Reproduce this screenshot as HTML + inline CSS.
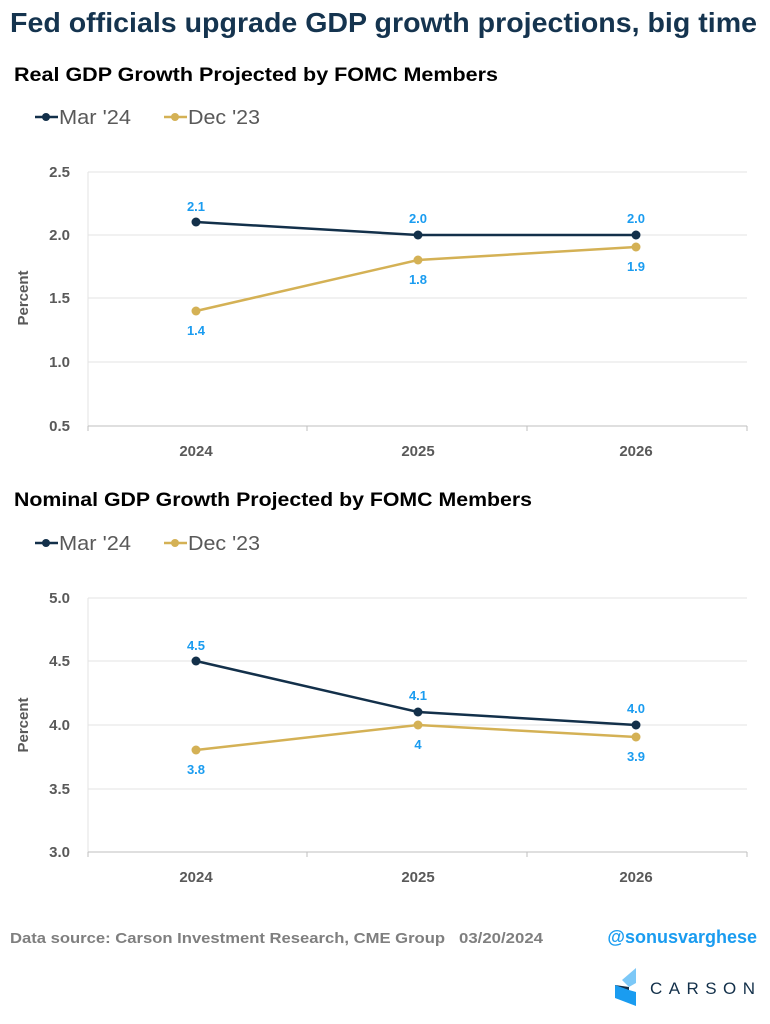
<!DOCTYPE html>
<html><head><meta charset="utf-8"><style>
body{margin:0;background:#fff}
svg{display:block;font-family:"Liberation Sans",Arial,sans-serif}
.t{font-size:15px;font-weight:bold;fill:#595959}
.lb{font-size:13px;font-weight:bold;fill:#1a9cf0}
</style></head><body>
<svg width="770" height="1024" viewBox="0 0 770 1024">
<text x="10" y="32" font-size="28" font-weight="bold" fill="#15344f" textLength="747" lengthAdjust="spacingAndGlyphs">Fed officials upgrade GDP growth projections, big time</text>
<text x="14" y="81" font-size="19" font-weight="bold" fill="#000" textLength="484" lengthAdjust="spacingAndGlyphs">Real GDP Growth Projected by FOMC Members</text>
<g font-size="20" fill="#595959">
<line x1="35" y1="117" x2="58" y2="117" stroke="#13304a" stroke-width="2.5"/><circle cx="46" cy="117" r="4" fill="#13304a"/>
<text x="59" y="124" textLength="72" lengthAdjust="spacingAndGlyphs">Mar '24</text>
<line x1="164" y1="117" x2="187" y2="117" stroke="#d4b155" stroke-width="2.5"/><circle cx="175" cy="117" r="4" fill="#d4b155"/>
<text x="188" y="124" textLength="72" lengthAdjust="spacingAndGlyphs">Dec '23</text>
</g>
<!-- chart1 -->
<g stroke="#e3e3e3" stroke-width="1">
<line x1="88" y1="172" x2="747" y2="172"/><line x1="88" y1="235" x2="747" y2="235"/><line x1="88" y1="298" x2="747" y2="298"/><line x1="88" y1="362" x2="747" y2="362"/>
<line x1="88" y1="172" x2="88" y2="426"/>
</g>
<g stroke="#bfbfbf"><line x1="88" y1="426" x2="747" y2="426"/><line x1="307" y1="426" x2="307" y2="431"/><line x1="527" y1="426" x2="527" y2="431"/><line x1="747" y1="426" x2="747" y2="431"/><line x1="88" y1="426" x2="88" y2="431"/></g>
<g class="t" text-anchor="end"><text x="70" y="177">2.5</text><text x="70" y="240">2.0</text><text x="70" y="303">1.5</text><text x="70" y="367">1.0</text><text x="70" y="431">0.5</text></g>
<g class="t" text-anchor="middle"><text x="196" y="456">2024</text><text x="418" y="456">2025</text><text x="636" y="456">2026</text></g>
<text class="t" transform="translate(28,298) rotate(-90)" text-anchor="middle">Percent</text>
<polyline points="196,311 418,260 636,247" fill="none" stroke="#d4b155" stroke-width="2.5"/>
<polyline points="196,222 418,235 636,235" fill="none" stroke="#13304a" stroke-width="2.5"/>
<g fill="#d4b155"><circle cx="196" cy="311" r="4.5"/><circle cx="418" cy="260" r="4.5"/><circle cx="636" cy="247" r="4.5"/></g>
<g fill="#13304a"><circle cx="196" cy="222" r="4.5"/><circle cx="418" cy="235" r="4.5"/><circle cx="636" cy="235" r="4.5"/></g>
<g class="lb" text-anchor="middle"><text x="196" y="211">2.1</text><text x="418" y="223">2.0</text><text x="636" y="223">2.0</text>
<text x="196" y="335">1.4</text><text x="418" y="284">1.8</text><text x="636" y="271">1.9</text></g>
<!-- chart2 -->
<text x="14" y="506" font-size="19" font-weight="bold" fill="#000" textLength="518" lengthAdjust="spacingAndGlyphs">Nominal GDP Growth Projected by FOMC Members</text>
<g font-size="20" fill="#595959">
<line x1="35" y1="543" x2="58" y2="543" stroke="#13304a" stroke-width="2.5"/><circle cx="46" cy="543" r="4" fill="#13304a"/>
<text x="59" y="550" textLength="72" lengthAdjust="spacingAndGlyphs">Mar '24</text>
<line x1="164" y1="543" x2="187" y2="543" stroke="#d4b155" stroke-width="2.5"/><circle cx="175" cy="543" r="4" fill="#d4b155"/>
<text x="188" y="550" textLength="72" lengthAdjust="spacingAndGlyphs">Dec '23</text>
</g>
<g stroke="#e3e3e3" stroke-width="1">
<line x1="88" y1="598" x2="747" y2="598"/><line x1="88" y1="661" x2="747" y2="661"/><line x1="88" y1="725" x2="747" y2="725"/><line x1="88" y1="789" x2="747" y2="789"/>
<line x1="88" y1="598" x2="88" y2="852"/>
</g>
<g stroke="#bfbfbf"><line x1="88" y1="852" x2="747" y2="852"/><line x1="307" y1="852" x2="307" y2="857"/><line x1="527" y1="852" x2="527" y2="857"/><line x1="747" y1="852" x2="747" y2="857"/><line x1="88" y1="852" x2="88" y2="857"/></g>
<g class="t" text-anchor="end"><text x="70" y="603">5.0</text><text x="70" y="666">4.5</text><text x="70" y="730">4.0</text><text x="70" y="794">3.5</text><text x="70" y="857">3.0</text></g>
<g class="t" text-anchor="middle"><text x="196" y="882">2024</text><text x="418" y="882">2025</text><text x="636" y="882">2026</text></g>
<text class="t" transform="translate(28,725) rotate(-90)" text-anchor="middle">Percent</text>
<polyline points="196,750 418,725 636,737" fill="none" stroke="#d4b155" stroke-width="2.5"/>
<polyline points="196,661 418,712 636,725" fill="none" stroke="#13304a" stroke-width="2.5"/>
<g fill="#d4b155"><circle cx="196" cy="750" r="4.5"/><circle cx="418" cy="725" r="4.5"/><circle cx="636" cy="737" r="4.5"/></g>
<g fill="#13304a"><circle cx="196" cy="661" r="4.5"/><circle cx="418" cy="712" r="4.5"/><circle cx="636" cy="725" r="4.5"/></g>
<g class="lb" text-anchor="middle"><text x="196" y="650">4.5</text><text x="418" y="700">4.1</text><text x="636" y="713">4.0</text>
<text x="196" y="774">3.8</text><text x="418" y="749">4</text><text x="636" y="761">3.9</text></g>
<!-- footer -->
<text x="10" y="943" font-size="15" font-weight="bold" fill="#7f7f7f" textLength="435" lengthAdjust="spacingAndGlyphs">Data source: Carson Investment Research, CME Group</text>
<text x="459" y="943" font-size="15" font-weight="bold" fill="#7f7f7f" textLength="84" lengthAdjust="spacingAndGlyphs">03/20/2024</text>
<text x="757" y="943" text-anchor="end" font-size="18" font-weight="bold" fill="#1a9cf0">@sonusvarghese</text>
<polygon points="622,980 636,968 636,983 629,987" fill="#7cc8f7"/>
<polygon points="615,985 629,987 629,990 615,998" fill="#13304a"/>
<polygon points="615,985 615,998 636,1006 636,992 629,990" fill="#1a9cf0"/>
<text x="650" y="994" font-size="17" fill="#13304a" textLength="105" lengthAdjust="spacing">CARSON</text>
</svg>
</body></html>
